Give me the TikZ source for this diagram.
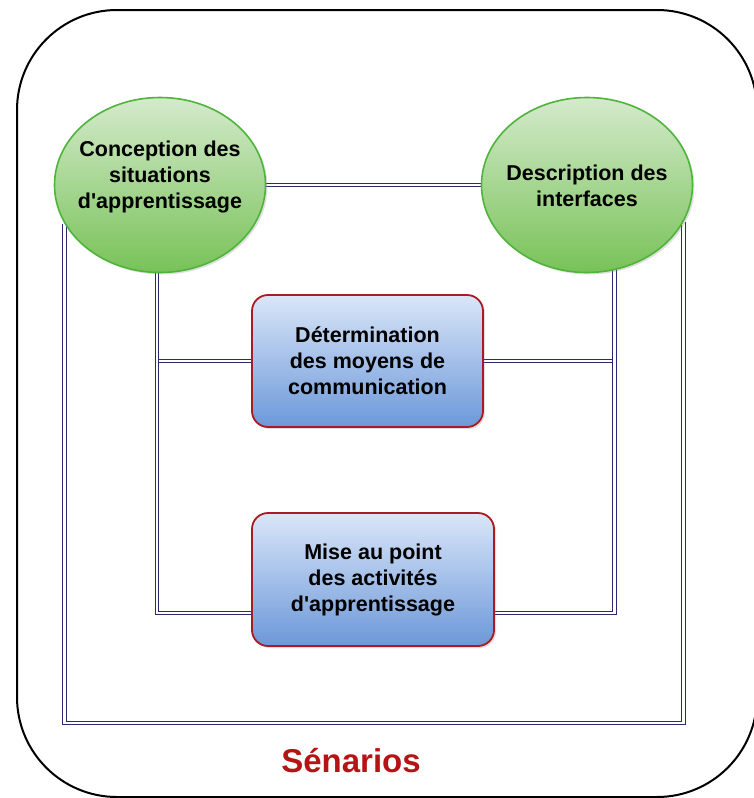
\documentclass[tikz,border=0pt]{standalone}
\usepackage{fontspec}
\setmainfont{Liberation Sans}[Ligatures=TeXOff]
\usetikzlibrary{shapes.geometric,shadows,backgrounds,calc}
\definecolor{navyline}{RGB}{42,42,112}
\definecolor{ovalborder}{RGB}{78,180,58}
\definecolor{ovaltop}{RGB}{212,234,204}
\definecolor{ovalbot}{RGB}{120,194,88}
\definecolor{boxborder}{RGB}{170,26,32}
\definecolor{boxtop}{RGB}{218,230,248}
\definecolor{boxbot}{RGB}{108,152,217}
\definecolor{titlered}{RGB}{182,20,20}
\begin{document}
\begin{tikzpicture}[x=1pt,y=-1pt,
  oval/.style={ellipse, minimum width=211pt, minimum height=175pt, inner sep=0pt,
    draw=ovalborder, line width=1.6pt, top color=ovaltop, bottom color=ovalbot,
    drop shadow={shadow xshift=2pt, shadow yshift=-2pt, opacity=0.25}},
  taskbox/.style={rectangle, rounded corners=16pt, draw=boxborder, line width=1.8pt,
    top color=boxtop, bottom color=boxbot, align=center, inner sep=0pt,
    font=\bfseries\fontsize{21.5}{26}\selectfont,
    drop shadow={shadow xshift=2pt, shadow yshift=-2pt, opacity=0.25}},
  lbl/.style={align=center, inner sep=0pt, font=\bfseries\fontsize{21.5}{26}\selectfont},
  dbl/.style={draw=navyline, line width=1pt, double=white, double distance=2.6pt},
  framebox/.style={rectangle, rounded corners=100pt, draw=black, line width=2pt,
    inner sep=0pt, minimum width=740pt, minimum height=787pt}
]
\useasboundingbox (0,0) rectangle (754,798);
% outer frame
\node[framebox] (frame) at (387,403.5) {};

% nodes
\node[oval] (conc) at (160,185) {};
\node[lbl] (concT) at (160,177) {Conception des\\situations\\d'apprentissage};
\node[oval] (desc) at (587,185) {};
\node[lbl] (descT) at (587,186) {Description des\\interfaces};
\node[taskbox, minimum width=231pt, minimum height=132pt] (det) at (367.5,361)
  {Détermination\\des moyens de\\communication};
\node[taskbox, minimum width=242pt, minimum height=133pt] (mise) at (373,579.5)
  {Mise au point\\des activités\\d'apprentissage};
\node[font=\bfseries\fontsize{33}{40}\selectfont, text=titlered, inner sep=0pt] (title) at (351,761) {Sénarios};

% connectors
\coordinate (bot) at (0,723);
\coordinate (mL) at ($(mise.west)+(0,33.5)$);
\coordinate (mR) at ($(mise.east)+(0,33.5)$);
\begin{scope}[on background layer]
  \fill[white] (0,0) rectangle (754,798);
  \draw[dbl] (conc.east) -- (desc.west);
  \draw[dbl] (conc.268 |- det.west) -- (det.west);
  \draw[dbl] (det.east) -- (desc.288 |- det.east);
  \draw[dbl] (conc.268) -- (conc.268 |- mL) -- (mL);
  \draw[dbl] (desc.288) -- (desc.288 |- mR) -- (mR);
  \draw[dbl] (conc.202) -- (conc.202 |- bot) -| (desc.339);
\end{scope}
\end{tikzpicture}
\end{document}
